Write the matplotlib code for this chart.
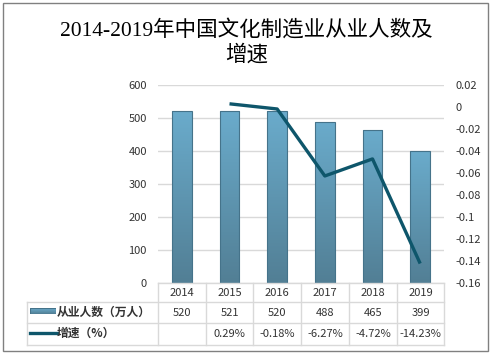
import numpy as np
import matplotlib
matplotlib.use("Agg")
import matplotlib.pyplot as plt
from matplotlib.patches import Rectangle
from matplotlib.lines import Line2D
from matplotlib.colors import LinearSegmentedColormap

plt.rcParams['font.family'] = ['Noto Sans CJK SC', 'DejaVu Sans']

# data
years = ['2014', '2015', '2016', '2017', '2018', '2019']
workers = [520, 521, 520, 488, 465, 399]            # 从业人数（万人）
growth = [None, 0.29, -0.18, -6.27, -4.72, -14.23]  # 增速（%）
bar_label = '从业人数（万人）'
line_label = '增速（%）'
title_lines = ['2014-2019年中国文化制造业从业人数及', '增速']

W, H = 494, 356
TXT = '#333333'
GRID = '#D9D9D9'
LINE_C = '#0E566B'


def fx(px):
    return px / W


def fy(py):
    # pixel row from the top -> figure fraction
    return 1 - py / H


fig = plt.figure(figsize=(W / 100, H / 100), dpi=100)

# plot area: x 158..444, y 85..283 (pixels)
left, right, top, bottom = 158, 444, 85, 283
ax = fig.add_axes([fx(left), fy(bottom), fx(right - left), (bottom - top) / H])
x = np.arange(len(years))

grad = LinearSegmentedColormap.from_list('bar', ['#527F95', '#6AABCB'])
bars = ax.bar(x, workers, width=0.41, facecolor='none', edgecolor='#45738A',
              linewidth=0.8, zorder=3)
for b in bars:
    im = ax.imshow(np.linspace(0, 1, 64).reshape(-1, 1), cmap=grad, origin='lower',
                   aspect='auto', zorder=2,
                   extent=[b.get_x(), b.get_x() + b.get_width(), 0, b.get_height()])
    im.set_clip_path(b)

ax.set_xlim(-0.5, len(years) - 0.5)
ax.set_ylim(0, 600)
ax.set_yticks(range(0, 601, 100))
ax.set_xticks([])
ax.yaxis.grid(True, color=GRID, linewidth=1)
ax.set_axisbelow(True)
ax.tick_params(axis='y', length=0, pad=8, labelsize=8, labelcolor=TXT)
for s in ax.spines.values():
    s.set_visible(False)

ax2 = ax.twinx()
gx = [i for i, g in enumerate(growth) if g is not None]
gy = [g / 100 for g in growth if g is not None]
ax2.plot(gx, gy, color=LINE_C, linewidth=2.4, solid_capstyle='butt', zorder=4)
ax2.set_ylim(-0.16, 0.02)
ticks2 = np.round(np.arange(-0.16, 0.021, 0.02), 2)
ax2.set_yticks(ticks2)
ax2.set_yticklabels(['{:g}'.format(t) if t != 0 else '0' for t in ticks2])
ax2.tick_params(axis='y', length=0, pad=8, labelsize=8, labelcolor=TXT)
for s in ax2.spines.values():
    s.set_visible(False)

# data table under the plot
col_x = [158, 206, 253, 301, 349, 397, 444]
rows_y = [283, 302, 323, 345]
lkw = dict(color=GRID, linewidth=1, transform=fig.transFigure)
fig.add_artist(Line2D([fx(158), fx(444)], [fy(283), fy(283)], **lkw))
for yy in rows_y[1:]:
    fig.add_artist(Line2D([fx(27), fx(444)], [fy(yy), fy(yy)], **lkw))
for cx in col_x:
    fig.add_artist(Line2D([fx(cx), fx(cx)], [fy(283), fy(345)], **lkw))
fig.add_artist(Line2D([fx(27), fx(27)], [fy(302), fy(345)], **lkw))

tkw = dict(ha='center', va='center', fontsize=8, color=TXT)
for i, yr in enumerate(years):
    cx = (col_x[i] + col_x[i + 1]) / 2
    fig.text(fx(cx), fy(292.5), yr, **tkw)
    fig.text(fx(cx), fy(312.5), str(workers[i]), **tkw)
    if growth[i] is not None:
        fig.text(fx(cx), fy(334), '{:.2f}%'.format(growth[i]), **tkw)

# legend keys inside the table
key = fig.add_axes([fx(30), fy(313.5), fx(26), 5.5 / H])
key.imshow(np.linspace(0, 1, 16).reshape(-1, 1), cmap=grad, origin='lower', aspect='auto')
key.add_patch(Rectangle((-0.5, -0.5), 1, 16, fill=False, edgecolor='#45738A', linewidth=0.8))
key.set_axis_off()
fig.add_artist(Line2D([fx(30), fx(57)], [fy(333), fy(333)], color=LINE_C,
                      linewidth=2.4, transform=fig.transFigure))
fig.text(fx(57), fy(312.5), bar_label, ha='left', va='center', fontsize=8.5,
         fontweight='bold', color=TXT)
fig.text(fx(57), fy(333), line_label, ha='left', va='center', fontsize=8.5,
         fontweight='bold', color=TXT)

# title
ttl = dict(ha='center', va='center', fontsize=15.5, color='black',
           family=['Liberation Serif', 'Noto Sans CJK SC'])
fig.text(fx(246.5), fy(30), title_lines[0], **ttl)
fig.text(fx(246.5), fy(55), title_lines[1], **ttl)

# outer frame
fig.add_artist(Rectangle((fx(3), fy(351)), fx(485), (351 - 3) / H, fill=False,
                         edgecolor='#808080', linewidth=1, transform=fig.transFigure))

fig.savefig('out.png', dpi=100)
